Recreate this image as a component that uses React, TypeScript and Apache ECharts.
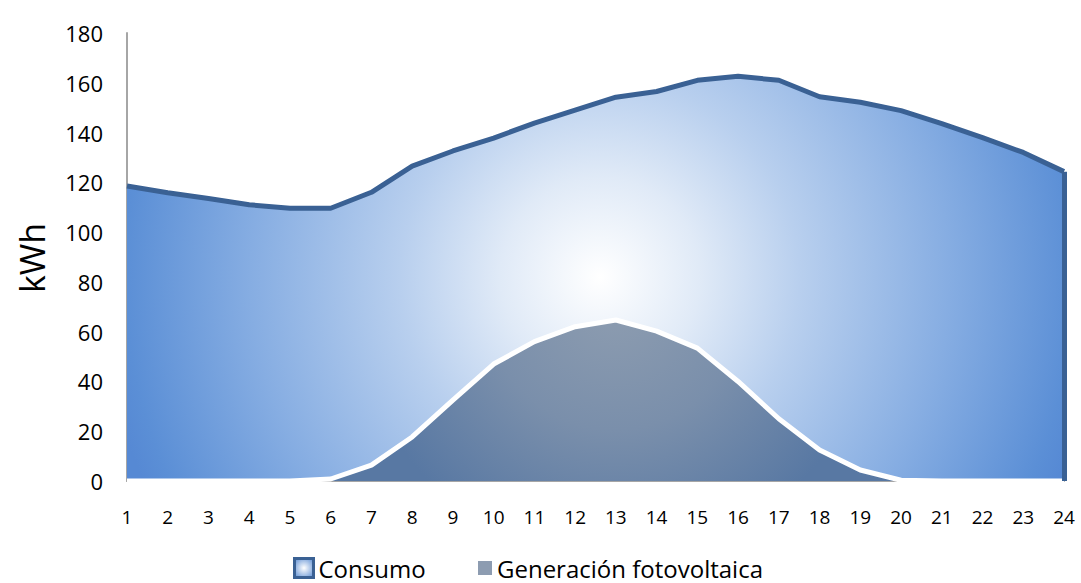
import React, { useEffect, useRef } from "react";
import * as echarts from "echarts";

const hours = ["1","2","3","4","5","6","7","8","9","10","11","12","13","14","15","16","17","18","19","20","21","22","23","24"];
const consumo = [118.5, 115.8, 113.5, 111, 109.6, 109.6, 116, 126.5, 132.6, 137.8, 143.8, 149, 154.2, 156.5, 161, 162.6, 161, 154.4, 152.2, 148.8, 143.6, 138, 132, 124.3];
const generacion = [0, 0, 0, 0, 0, 0.8, 6.4, 17.7, 32.5, 47, 56, 62, 64.7, 60.2, 53.4, 40, 25, 12.5, 4.4, 0.3, 0, 0, 0, 0];
const yTicks = { min: 0, max: 180, interval: 20 };
const seriesNames = ["Consumo", "Generación fotovoltaica"];
const yAxisTitle = "kWh";

const FONT = "'Open Sans', 'Liberation Sans', sans-serif";

export default function App() {
  const ref = useRef<HTMLDivElement>(null);
  useEffect(() => {
    if (!ref.current) return;
    const chart = echarts.init(ref.current, undefined, { renderer: "svg" });
    const consumoFill = new echarts.graphic.RadialGradient(600, 277, 500, [
      { offset: 0, color: "#ffffff" },
      { offset: 0.2, color: "#e0eaf7" },
      { offset: 0.4, color: "#b8cfee" },
      { offset: 0.7, color: "#86ade2" },
      { offset: 0.95, color: "#5b8fd6" },
      { offset: 1, color: "#5689d4" },
    ], true);
    const genFill = new echarts.graphic.RadialGradient(615, 300, 260, [
      { offset: 0, color: "#8e9db0" },
      { offset: 0.5, color: "#7a8fab" },
      { offset: 1, color: "#5878a3" },
    ], true);
    const legendConsumo = new echarts.graphic.RadialGradient(0.5, 0.5, 0.6, [
      { offset: 0, color: "#ffffff" },
      { offset: 1, color: "#6f9bd8" },
    ]);
    const legendText = { color: "#000", fontFamily: FONT, fontSize: 24, lineHeight: 24 };
    chart.setOption({
      animation: false,
      grid: { left: 127, right: 17, top: 33, bottom: 102, containLabel: false },
      xAxis: {
        type: "category",
        data: hours,
        boundaryGap: false,
        axisLine: { show: true, lineStyle: { color: "#a6a6a6", width: 2 } },
        axisTick: { show: false },
        axisLabel: { color: "#000", fontFamily: FONT, fontSize: 19, margin: 26 },
        splitLine: { show: false },
      },
      yAxis: {
        type: "value",
        min: yTicks.min,
        max: yTicks.max,
        interval: yTicks.interval,
        axisLine: { show: true, lineStyle: { color: "#a6a6a6", width: 2 } },
        axisTick: { show: false },
        axisLabel: { color: "#000", fontFamily: FONT, fontSize: 22, margin: 24 },
        splitLine: { show: false },
      },
      legend: [
        {
          left: 293,
          top: 556,
          padding: 0,
          itemWidth: 19,
          itemHeight: 19,
          itemGap: 8,
          textStyle: legendText,
          data: [
            {
              name: seriesNames[0],
              icon: "rect",
              itemStyle: { color: legendConsumo, borderColor: "#3a6194", borderWidth: 3 },
            },
          ],
          selectedMode: false,
        },
        {
          left: 478,
          top: 556,
          padding: 0,
          itemWidth: 14,
          itemHeight: 14,
          itemGap: 8,
          textStyle: legendText,
          data: [
            {
              name: seriesNames[1],
              icon: "rect",
              itemStyle: { color: "#8d9cb1", borderWidth: 0 },
            },
          ],
          selectedMode: false,
        },
      ],
      graphic: [
        {
          type: "text",
          x: 32,
          y: 258,
          rotation: Math.PI / 2,
          style: {
            text: yAxisTitle,
            fontFamily: FONT,
            fontSize: 34,
            fill: "#000",
            align: "center",
            verticalAlign: "middle",
          },
        },
      ],
      series: [
        {
          name: seriesNames[0],
          type: "line",
          data: consumo,
          symbol: "none",
          lineStyle: { color: "#3a6194", width: 5 },
          itemStyle: { color: "#3a6194" },
          areaStyle: { color: consumoFill, opacity: 1 },
          z: 2,
          markLine: {
            silent: true,
            symbol: "none",
            label: { show: false },
            lineStyle: { color: "#3a6194", width: 5, type: "solid" },
            data: [
              [
                { coord: [hours[hours.length - 1], 0] },
                { coord: [hours[hours.length - 1], consumo[consumo.length - 1]] },
              ],
            ],
          },
        },
        {
          name: seriesNames[1],
          type: "line",
          data: generacion,
          symbol: "none",
          lineStyle: { color: "#ffffff", width: 5 },
          itemStyle: { color: "#8d9cb1" },
          areaStyle: { color: genFill, opacity: 1 },
          z: 3,
        },
      ],
    });
    return () => chart.dispose();
  }, []);
  return (
    <div
      ref={ref}
      style={{ position: "fixed", left: 0, top: 0, width: 1081, height: 583, background: "#fff" }}
    />
  );
}
